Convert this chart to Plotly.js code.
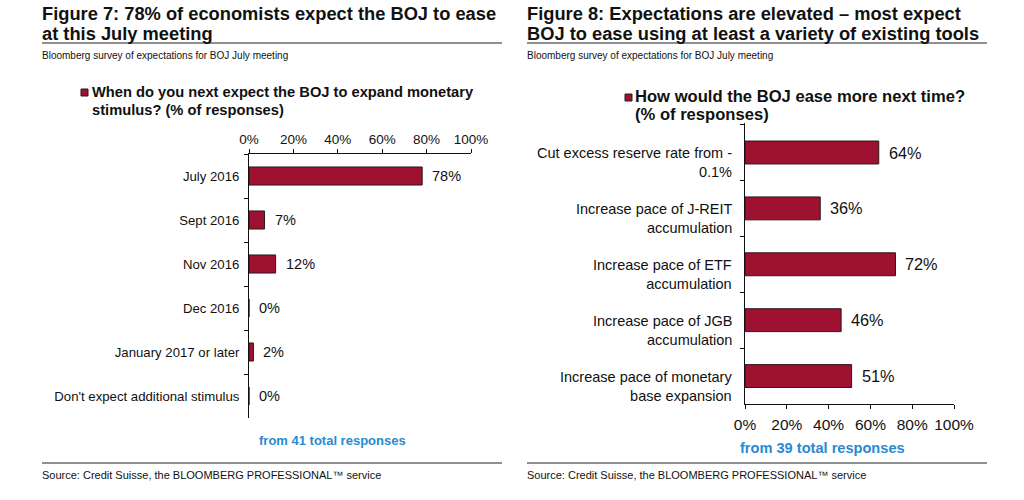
<!DOCTYPE html>
<html><head><meta charset="utf-8">
<script src="https://cdn.plot.ly/plotly-3.0.1.min.js"></script>
<style>html,body{margin:0;padding:0;background:#fff}#chart{width:1024px;height:500px}</style>
</head><body><div id="chart"></div>
<script>
// Figure 7 data
const timingCategories = ["July 2016","Sept 2016","Nov 2016","Dec 2016","January 2017 or later","Don't expect additional stimulus"];
const timingValues = [78, 7, 12, 0, 2, 0];
// Figure 8 data
const toolCategories = ["Cut excess reserve rate from -<br>0.1%","Increase pace of J-REIT<br>accumulation","Increase pace of ETF<br>accumulation","Increase pace of JGB<br>accumulation","Increase pace of monetary<br>base expansion"];
const toolValues = [64, 36, 72, 46, 51];
const pctTicks = [0, 20, 40, 60, 80, 100];
const pctTickLabels = ["0%","20%","40%","60%","80%","100%"];

const W = 1024, H = 500;
const px = v => v / W, py = v => 1 - v / H;
const BAR = '#9E1131', EDGE = '#2a1a1a', BLUE = '#2A8AD0';
const FONT = 'Liberation Sans, Arial, sans-serif';

const traces = [
  {type:'bar', orientation:'h', y: timingCategories, x: timingValues, xaxis:'x', yaxis:'y',
   width:0.41, marker:{color:BAR, line:{color:EDGE, width:1}}, hoverinfo:'none', showlegend:false},
  {type:'bar', orientation:'h', y: toolCategories, x: toolValues, xaxis:'x2', yaxis:'y2',
   width:0.41, marker:{color:BAR, line:{color:EDGE, width:1}}, hoverinfo:'none', showlegend:false}
];

const annotations = [];
// data labels
timingValues.forEach((v,i)=>annotations.push({xref:'x', yref:'y', x:v, y:timingCategories[i], text:v+'%',
  xanchor:'left', yanchor:'middle', xshift:8, showarrow:false, font:{family:FONT,size:14.5,color:'#111'}}));
toolValues.forEach((v,i)=>annotations.push({xref:'x2', yref:'y2', x:v, y:toolCategories[i], text:v+'%',
  xanchor:'left', yanchor:'middle', xshift:8, showarrow:false, font:{family:FONT,size:16.3,color:'#111'}}));
// right category labels
toolCategories.forEach((c,i)=>annotations.push({xref:'x2', yref:'y2', x:0, y:c, text:c, align:'right',
  xanchor:'right', yanchor:'middle', xshift:-11, yshift:-10, showarrow:false, font:{family:FONT,size:14.5,color:'#111'}}));

// titles etc.
const txt = (x,y,text,size,color) => annotations.push({xref:'paper',yref:'paper',x:px(x),y:py(y),text:text,
  showarrow:false,xanchor:'left',yanchor:'middle',align:'left',font:{family:FONT,size:size,color:color||'#111'}});
txt(40, 13, '<b>Figure 7: 78% of economists expect the BOJ to ease</b>', 18.3);
txt(40, 33, '<b>at this July meeting</b>', 18.3);
txt(525, 13, '<b>Figure 8: Expectations are elevated – most expect</b>', 18.3);
txt(525, 33, '<b>BOJ to ease using at least a variety of existing tools</b>', 18.3);
txt(40, 56, 'Bloomberg survey of expectations for BOJ July meeting', 10);
txt(525, 56, 'Bloomberg survey of expectations for BOJ July meeting', 10);
txt(90, 92, '<b>When do you next expect the BOJ to expand monetary</b>', 14.7);
txt(90, 110, '<b>stimulus? (% of responses)</b>', 14.7);
txt(633, 97, '<b>How would the BOJ ease more next time?</b>', 16.6);
txt(633, 115, '<b>(% of responses)</b>', 16.6);
txt(257, 440, '<b>from 41 total responses</b>', 13, BLUE);
txt(738, 448, '<b>from 39 total responses</b>', 14.6, BLUE);
txt(40, 475, 'Source: Credit Suisse, the BLOOMBERG PROFESSIONAL™ service', 11);
txt(525, 475, 'Source: Credit Suisse, the BLOOMBERG PROFESSIONAL™ service', 11);

const line = (x0,x1,y) => ({type:'line', xref:'paper', yref:'paper', x0:px(x0), x1:px(x1), y0:py(y), y1:py(y), line:{color:'#222', width:1}});
const square = (x,y) => ({type:'rect', xref:'paper', yref:'paper', x0:px(x), x1:px(x+7), y0:py(y), y1:py(y+7), fillcolor:BAR, line:{color:EDGE,width:1}});
const shapes = [line(42,502,43), line(527,987,43), line(42,502,463), line(527,987,463), square(81,89), square(625,94)];

const axisCommon = {showgrid:false, zeroline:false, showline:true, linecolor:'#111', linewidth:1, ticks:'outside', ticklen:4, tickcolor:'#111', fixedrange:true};
const layout = {
  width:W, height:H, margin:{l:0,r:0,t:0,b:0}, paper_bgcolor:'#fff', plot_bgcolor:'rgba(0,0,0,0)', showlegend:false,
  font:{family:FONT, color:'#111'},
  xaxis: Object.assign({}, axisCommon, {domain:[px(249),px(471)], anchor:'y', side:'top', range:[0,100],
    tickvals:pctTicks, ticktext:pctTickLabels, tickfont:{size:13.5}}),
  yaxis: Object.assign({}, axisCommon, {domain:[py(418),py(154)], anchor:'x', autorange:'reversed', type:'category',
    tickson:'boundaries', tickfont:{size:13.2}, ticklabelstandoff:6}),
  xaxis2: Object.assign({}, axisCommon, {domain:[px(745),px(954)], anchor:'y2', side:'bottom', range:[0,100],
    tickvals:pctTicks, ticktext:pctTickLabels, tickfont:{size:15.5}, ticklabelstandoff:2}),
  yaxis2: Object.assign({}, axisCommon, {domain:[py(404),py(123)], anchor:'x2', autorange:'reversed', type:'category',
    tickson:'boundaries', showticklabels:false}),
  annotations: annotations, shapes: shapes, bargap:0.59
};
Plotly.newPlot('chart', traces, layout, {staticPlot:true, displayModeBar:false});
</script></body></html>
